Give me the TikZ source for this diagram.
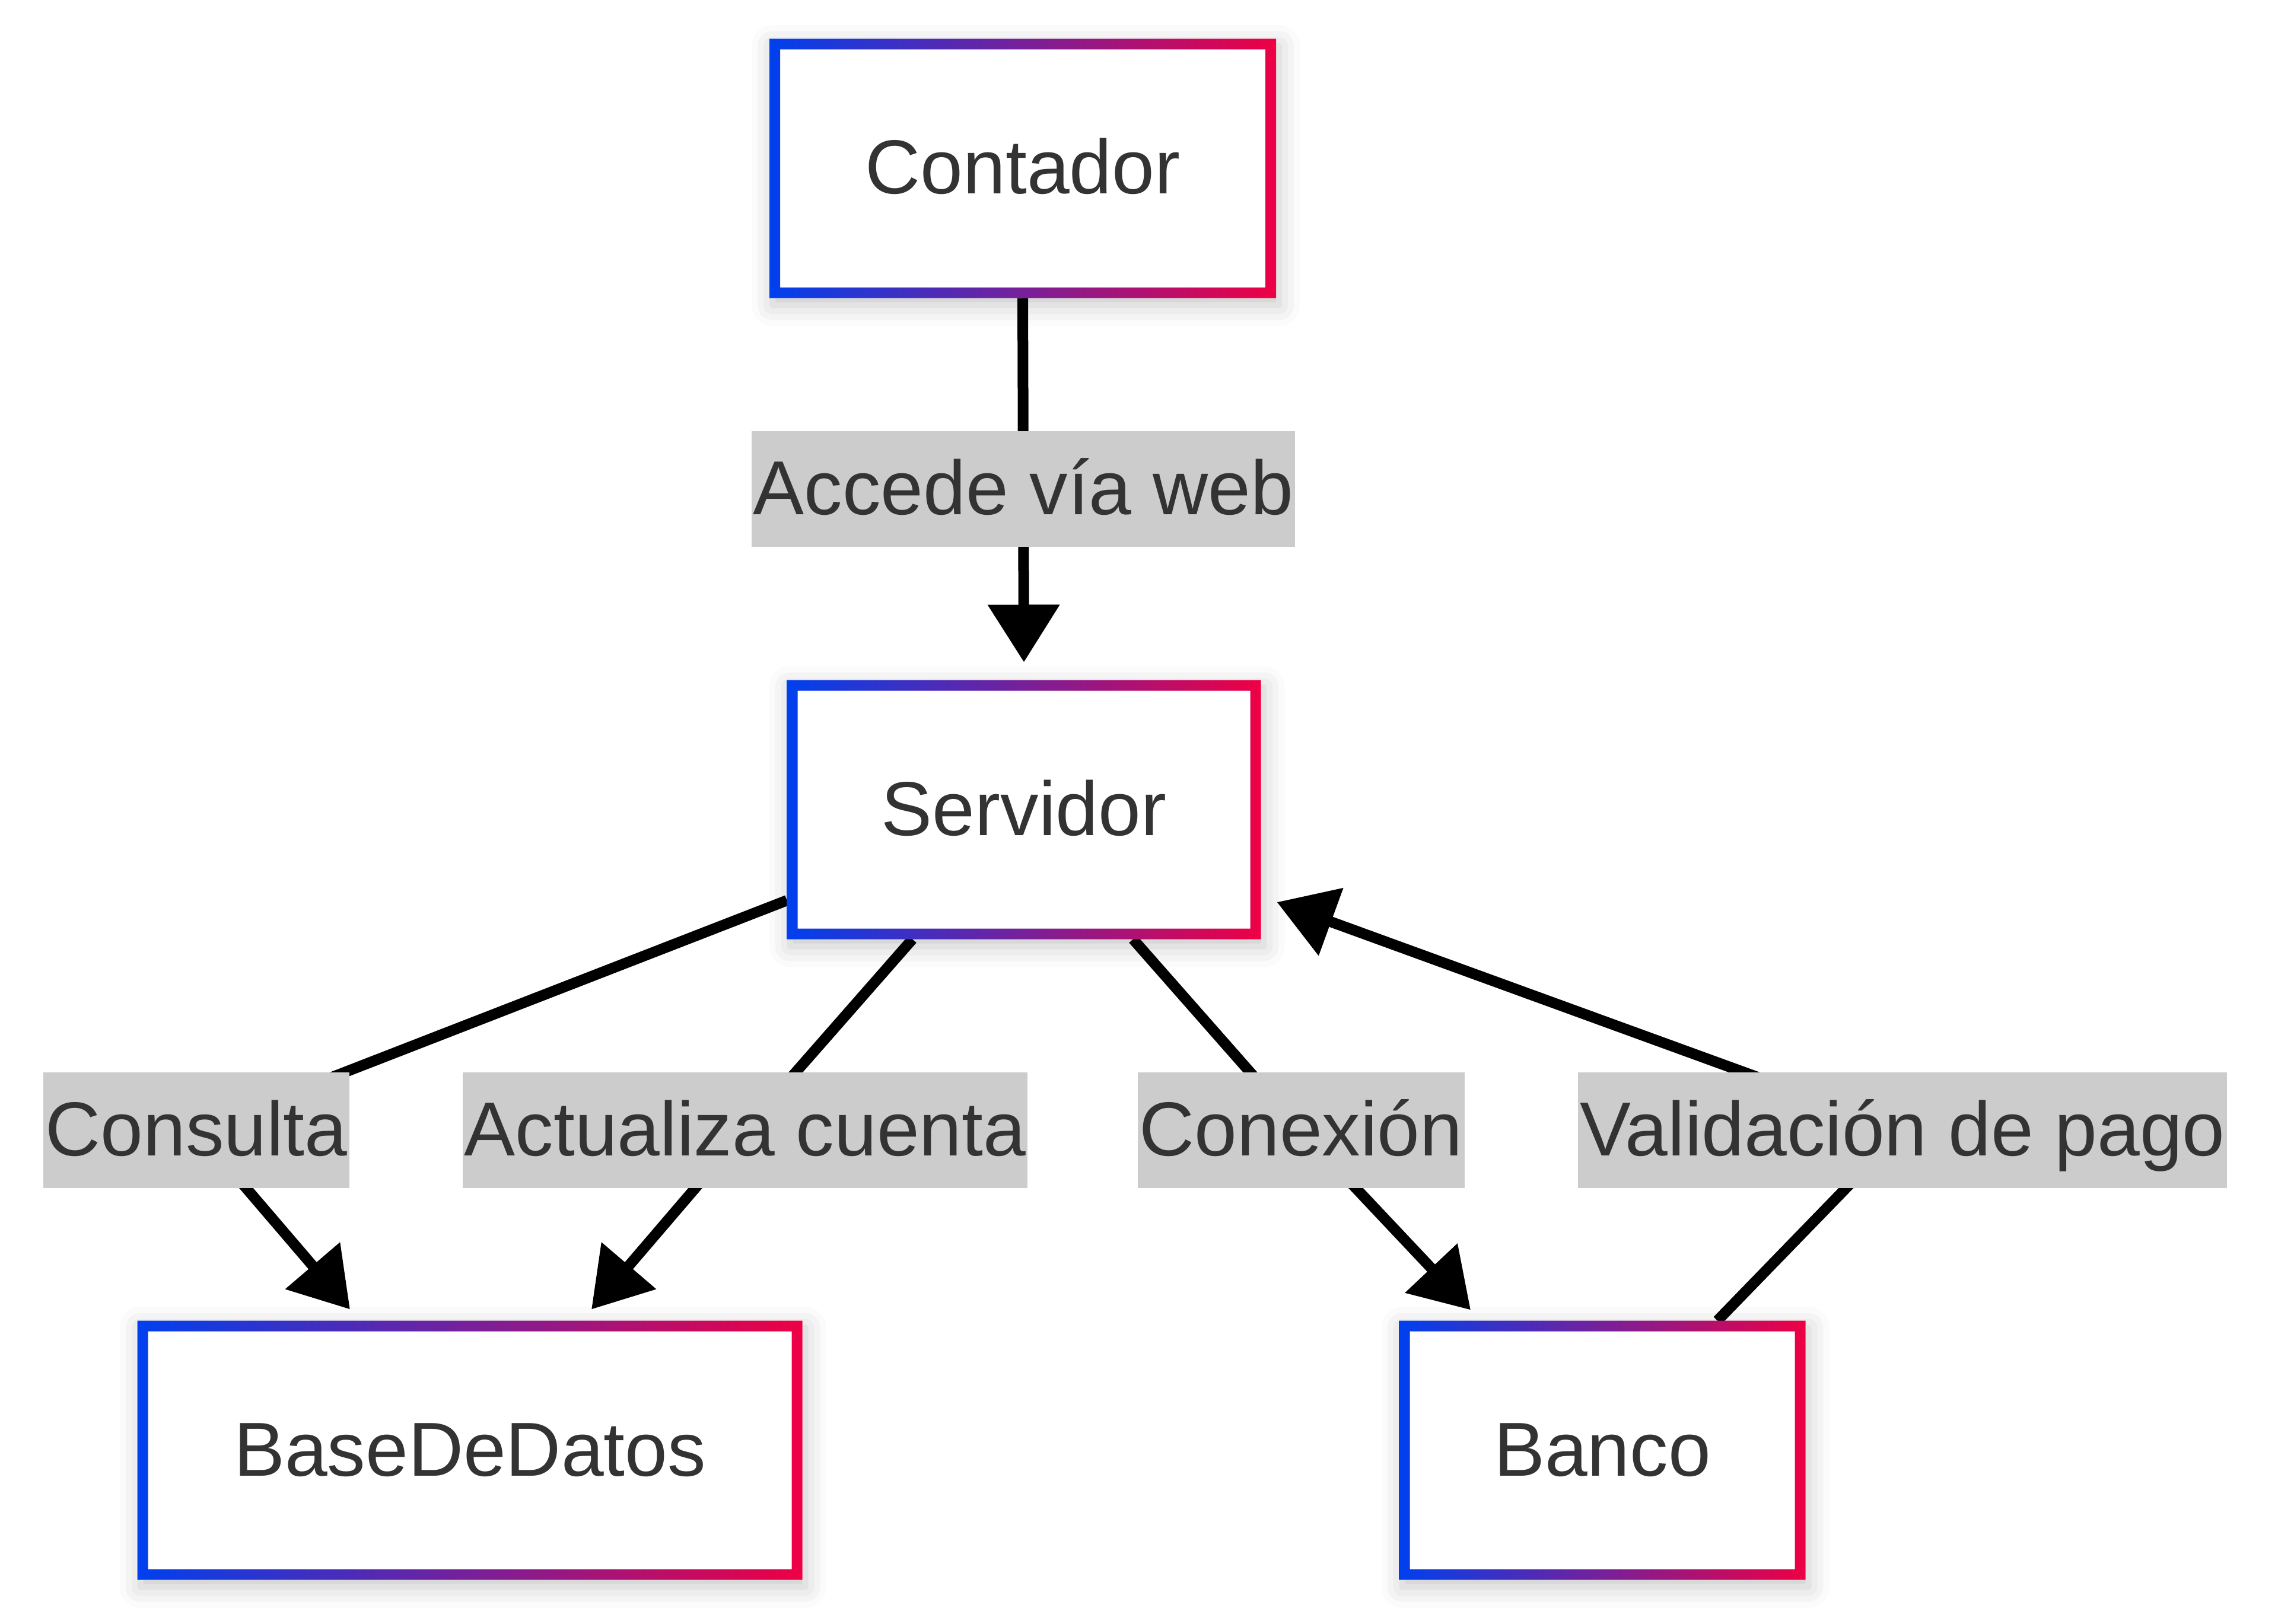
\documentclass[tikz,border=0pt]{standalone}
\usepackage{fontspec}
\setmainfont{Liberation Sans}
\usetikzlibrary{arrows.meta,shadows.blur}
\definecolor{gblue}{RGB}{0,64,238}
\definecolor{gred}{RGB}{238,0,68}
\definecolor{txt}{RGB}{51,51,51}
\definecolor{lblbg}{RGB}{204,204,204}
\tikzset{
  box/.style={rectangle, fill=white, outer sep=0pt, inner sep=0pt,
    minimum height=4.37cm, text=txt, text height=1.0cm, text depth=0.14cm,
    font=\fontsize{36.7pt}{44pt}\selectfont,
    blur shadow={shadow xshift=0.05cm, shadow yshift=-0.12cm, shadow blur radius=0.35cm, shadow opacity=22}},
  lbl/.style={rectangle, fill=lblbg, text=txt, inner xsep=0.03cm, inner ysep=0pt,
    minimum height=1.95cm, text height=1.0cm, text depth=0.14cm,
    font=\fontsize{36.7pt}{44pt}\selectfont},
  conn/.style={line width=0.18cm, draw=black, line join=round,
    -{Triangle[length=0.97cm,width=1.17cm]}},
  plain/.style={line width=0.18cm, draw=black, line join=round}
}
\begin{document}
\begin{tikzpicture}
\useasboundingbox (0,0) rectangle (38.4,-27.37);
% boxes
\node[box, minimum width=8.54cm] (cont) at (17.24,-2.84) {Contador};
\node[box, minimum width=7.99cm] (srv) at (17.26,-13.65) {Servidor};
\node[box, minimum width=11.21cm] (db) at (7.92,-24.45) {BaseDeDatos};
\node[box, minimum width=6.85cm] (bank) at (27.01,-24.45) {Banco};
% label positions
\coordinate (c1) at (17.25,-8.245);
\coordinate (c2) at (3.31,-19.05);
\coordinate (c3) at (12.56,-19.05);
\coordinate (c4) at (21.93,-19.05);
\coordinate (c5) at (32.07,-19.05);
% connectors
\draw[conn] (cont.south) -- (c1) -- ([yshift=0.3cm]srv.north);
\draw[conn] ([yshift=-1.53cm]srv.west) -- (c2) -- ([xshift=-2.02cm,yshift=0.19cm]db.north);
\draw[conn] ([xshift=-1.88cm]srv.south) -- (c3) -- ([xshift=2.05cm,yshift=0.19cm]db.north);
\draw[conn] ([xshift=1.84cm]srv.south) -- (c4) -- ([xshift=-2.22cm,yshift=0.18cm]bank.north);
\draw[conn] ([xshift=1.94cm]bank.north) -- (c5) -- ([xshift=0.27cm,yshift=-1.56cm]srv.east);
% labels
\node[lbl] (l1) at (c1) {Accede vía web};
\node[lbl] (l2) at (c2) {Consulta};
\node[lbl] (l3) at (c3) {Actualiza cuenta};
\node[lbl] (l4) at (c4) {Conexión};
\node[lbl] (l5) at (c5) {Validación de pago};
% gradient borders
\foreach \n in {cont,srv,db,bank}{
  \shade[left color=gblue, right color=gred, even odd rule]
    (\n.south west) rectangle (\n.north east)
    ([shift={(0.18cm,0.18cm)}]\n.south west) rectangle ([shift={(-0.18cm,-0.18cm)}]\n.north east);
}
\end{tikzpicture}
\end{document}
